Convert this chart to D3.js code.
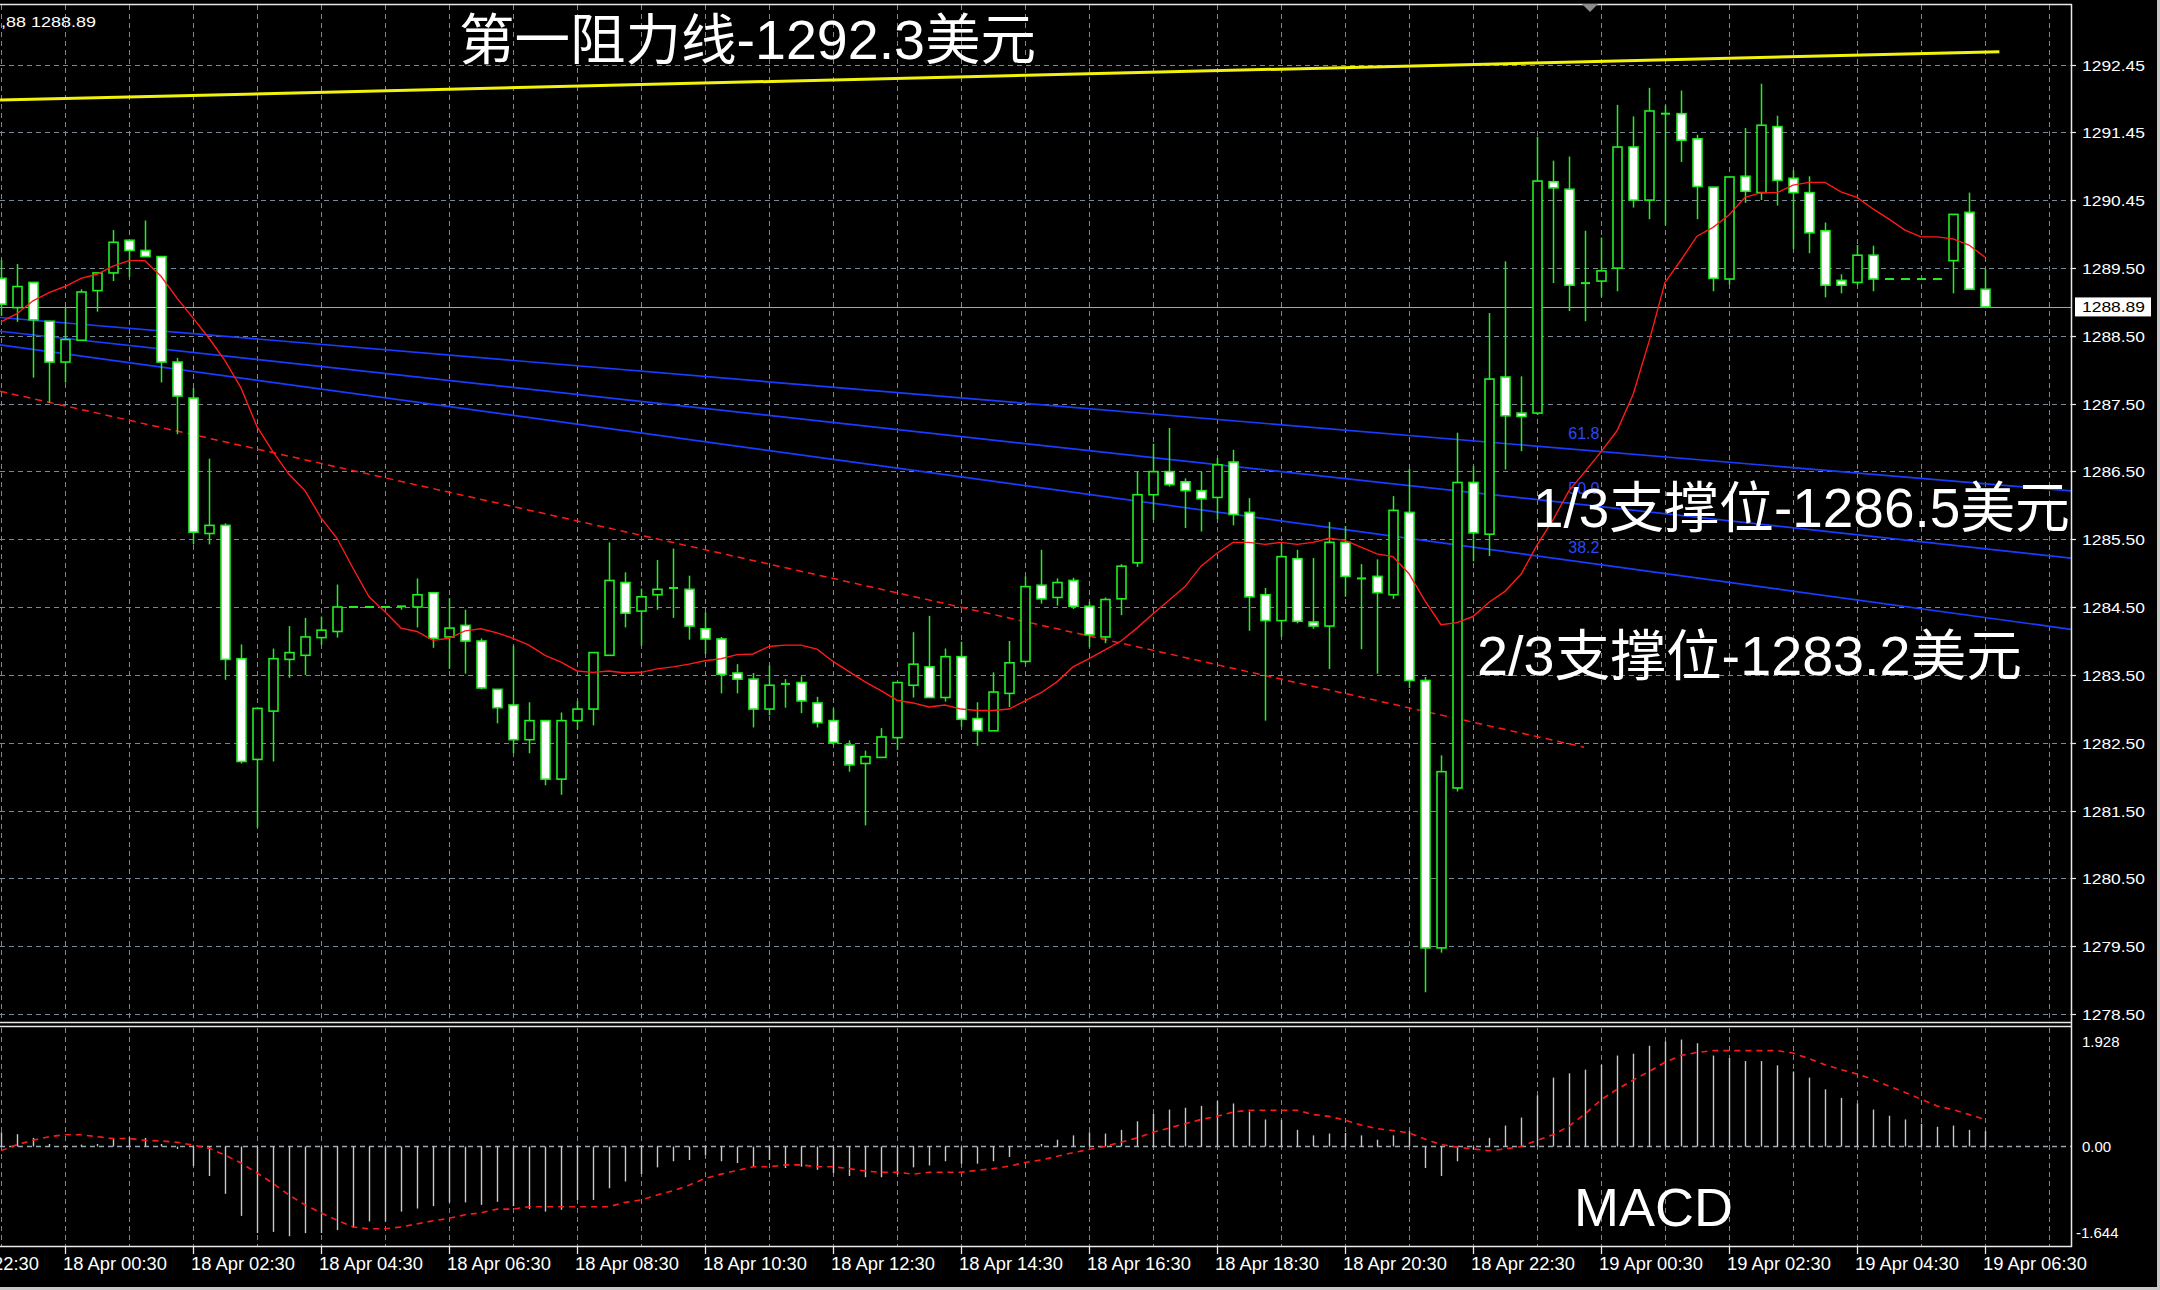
<!DOCTYPE html>
<html><head><meta charset="utf-8">
<script src="https://cdn.jsdelivr.net/npm/d3@7/dist/d3.min.js"></script>
<style>html,body{margin:0;padding:0;background:#000;overflow:hidden}</style>
</head><body><svg id="c" width="2160" height="1290" xmlns="http://www.w3.org/2000/svg"></svg>
<script>
// ---------- DATA ----------
const opens = [1289.31,1288.88,1289.25,1288.68,1288.08,1288.40,1289.13,1289.39,1289.87,1289.72,
1289.63,1288.08,1287.55,1285.56,1285.68,1283.72,1282.24,1282.95,1283.71,1283.77,
1284.03,1284.12,1284.48,1284.48,1284.48,1284.49,1284.48,1284.69,1284.04,1284.21,
1283.98,1283.27,1283.04,1282.53,1282.81,1281.95,1282.81,1282.98,1283.77,1284.84,
1284.42,1284.66,1284.76,1284.74,1284.16,1284.01,1283.51,1283.42,1282.98,1283.35,
1283.37,1283.07,1282.81,1282.45,1282.18,1282.27,1282.56,1283.33,1283.60,1283.15,
1283.75,1282.84,1282.66,1283.21,1283.68,1284.80,1284.62,1284.87,1284.49,1284.04,
1284.60,1285.13,1286.13,1286.47,1286.32,1286.19,1286.09,1286.61,1285.87,1284.66,
1284.28,1285.19,1284.26,1284.20,1285.43,1284.90,1284.93,1284.66,1285.87,1283.40,
1279.47,1281.82,1286.31,1285.55,1287.86,1287.33,1287.33,1290.73,1290.62,1289.24,
1289.27,1289.46,1291.24,1290.46,1291.73,1291.73,1291.36,1290.65,1289.30,1290.81,
1290.57,1291.54,1290.78,1290.57,1290.01,1289.28,1289.25,1289.65,1289.30,1289.30,
1289.30,1289.30,1289.57,1290.28,1289.15];
const highs = [1289.58,1289.52,1289.25,1288.68,1288.88,1289.15,1289.39,1290.02,1289.87,1290.16,
1289.63,1288.14,1287.70,1286.66,1285.71,1283.93,1282.99,1283.87,1284.20,1284.32,
1284.34,1284.81,1284.48,1284.48,1284.48,1284.49,1284.90,1284.69,1284.61,1284.44,
1284.02,1283.27,1283.91,1283.08,1282.81,1282.93,1283.10,1283.81,1285.43,1284.99,
1284.75,1285.17,1285.34,1284.94,1284.40,1284.04,1283.64,1283.51,1283.62,1283.42,
1283.46,1283.16,1282.99,1282.52,1282.37,1282.70,1283.37,1284.11,1284.35,1283.87,
1283.97,1283.08,1283.52,1283.98,1284.93,1285.32,1284.90,1284.91,1284.56,1284.62,
1285.11,1286.47,1286.88,1287.11,1286.37,1286.47,1286.67,1286.79,1286.08,1284.76,
1285.42,1285.32,1285.20,1285.73,1285.67,1285.11,1285.18,1286.11,1286.51,1283.45,
1282.30,1287.04,1286.55,1288.80,1289.56,1287.87,1291.39,1291.04,1291.10,1290.01,
1289.91,1291.86,1291.69,1292.11,1291.85,1292.07,1291.42,1290.65,1290.80,1291.52,
1292.17,1291.70,1290.90,1290.81,1290.13,1289.37,1289.80,1289.79,1289.30,1289.30,
1289.30,1289.30,1290.25,1290.57,1289.45];
const lows = [1288.76,1288.67,1287.85,1287.48,1287.78,1288.40,1288.82,1289.27,1289.33,1289.63,
1287.78,1287.02,1285.40,1285.40,1283.41,1282.18,1281.24,1282.21,1283.44,1283.48,
1283.92,1284.03,1284.48,1284.48,1284.48,1284.44,1284.18,1283.88,1283.57,1283.50,
1283.27,1282.77,1282.33,1282.33,1281.86,1281.72,1282.68,1282.74,1283.77,1284.18,
1283.91,1284.44,1284.32,1284.00,1283.79,1283.21,1283.21,1282.71,1282.89,1283.00,
1282.92,1282.71,1282.45,1282.06,1281.27,1282.27,1282.38,1283.15,1283.15,1283.09,
1282.72,1282.44,1282.66,1283.01,1283.65,1284.53,1284.50,1284.45,1283.89,1283.95,
1284.36,1285.07,1285.76,1286.25,1285.64,1285.59,1285.77,1285.68,1284.13,1282.81,
1284.04,1284.24,1284.16,1283.57,1284.63,1283.86,1283.50,1284.60,1283.29,1278.82,
1279.40,1281.77,1285.15,1285.23,1286.50,1286.77,1287.30,1289.24,1288.83,1288.68,
1289.04,1289.12,1290.35,1290.18,1290.09,1291.02,1290.18,1289.12,1289.22,1290.42,
1290.46,1290.38,1289.74,1289.68,1289.03,1289.09,1289.21,1289.12,1289.30,1289.30,
1289.30,1289.30,1289.09,1289.15,1288.87];
const closes = [1288.93,1289.19,1288.70,1288.08,1288.41,1289.11,1289.39,1289.84,1289.72,1289.63,
1288.08,1287.58,1285.58,1285.68,1283.71,1282.21,1282.99,1283.72,1283.81,1284.04,
1284.14,1284.48,1284.48,1284.48,1284.48,1284.49,1284.66,1284.02,1284.17,1283.98,
1283.29,1283.00,1282.53,1282.81,1281.95,1282.81,1282.98,1283.81,1284.87,1284.39,
1284.63,1284.74,1284.76,1284.20,1284.01,1283.49,1283.42,1282.98,1283.33,1283.35,
1283.10,1282.78,1282.49,1282.16,1282.28,1282.57,1283.37,1283.64,1283.15,1283.75,
1282.83,1282.66,1283.23,1283.66,1284.78,1284.60,1284.84,1284.49,1284.07,1284.59,
1285.08,1286.13,1286.47,1286.28,1286.19,1286.07,1286.57,1285.84,1284.63,1284.28,
1285.22,1284.27,1284.20,1285.43,1284.93,1284.90,1284.69,1285.90,1283.40,1279.47,
1282.06,1286.31,1285.57,1287.83,1287.29,1287.28,1290.74,1290.64,1289.21,1289.24,
1289.42,1291.24,1290.46,1291.77,1291.73,1291.34,1290.66,1289.31,1290.80,1290.59,
1291.56,1290.75,1290.57,1289.98,1289.21,1289.21,1289.65,1289.30,1289.30,1289.30,
1289.30,1289.30,1290.25,1289.15,1288.89];
const maValues = [1288.67,1288.79,1288.98,1289.10,1289.19,1289.31,1289.37,1289.49,1289.57,1289.57,
1289.34,1289.02,1288.73,1288.43,1288.10,1287.70,1287.13,1286.76,1286.43,1286.19,
1285.79,1285.49,1285.05,1284.63,1284.41,1284.17,1284.12,1283.99,1284.02,1284.13,
1284.16,1284.10,1284.02,1283.92,1283.77,1283.67,1283.54,1283.52,1283.54,1283.51,
1283.52,1283.57,1283.60,1283.64,1283.69,1283.72,1283.78,1283.79,1283.90,1283.92,
1283.92,1283.86,1283.68,1283.53,1283.38,1283.25,1283.11,1283.07,1283.01,1283.04,
1282.98,1282.96,1282.96,1282.98,1283.10,1283.22,1283.38,1283.60,1283.72,1283.85,
1283.98,1284.17,1284.38,1284.58,1284.78,1285.08,1285.27,1285.43,1285.43,1285.40,
1285.43,1285.40,1285.43,1285.49,1285.46,1285.36,1285.26,1285.22,1284.97,1284.57,
1284.22,1284.25,1284.34,1284.55,1284.71,1284.96,1285.39,1285.76,1286.19,1286.47,
1286.76,1287.07,1287.60,1288.38,1289.25,1289.58,1289.93,1290.06,1290.24,1290.50,
1290.57,1290.57,1290.68,1290.72,1290.72,1290.58,1290.50,1290.33,1290.18,1290.02,
1289.92,1289.92,1289.89,1289.80,1289.62];
const macdHist = [0.23,0.20,0.14,0.04,0.01,0.03,0.04,0.12,0.15,0.14,
0.04,-0.04,-0.32,-0.48,-0.77,-1.13,-1.41,-1.39,-1.46,-1.41,
-1.41,-1.36,-1.32,-1.22,-1.22,-1.06,-1.01,-0.97,-0.91,-0.91,
-0.95,-0.90,-0.97,-1.02,-1.06,-1.03,-0.87,-0.87,-0.68,-0.57,
-0.45,-0.34,-0.24,-0.22,-0.14,-0.24,-0.27,-0.33,-0.22,-0.35,
-0.33,-0.38,-0.43,-0.48,-0.50,-0.50,-0.46,-0.34,-0.31,-0.24,
-0.28,-0.28,-0.24,-0.17,0.00,0.04,0.11,0.18,0.23,0.21,
0.27,0.41,0.53,0.60,0.63,0.66,0.74,0.70,0.57,0.44,
0.43,0.27,0.18,0.21,0.22,0.18,0.11,0.18,0.25,-0.35,
-0.48,-0.24,-0.05,0.14,0.34,0.47,0.83,1.12,1.19,1.25,
1.33,1.48,1.51,1.64,1.71,1.74,1.68,1.48,1.44,1.39,
1.39,1.32,1.22,1.12,0.93,0.79,0.70,0.60,0.50,0.44,
0.37,0.32,0.34,0.27,0.25];
const macdSignal = [-0.07,0.03,0.10,0.16,0.19,0.19,0.16,0.13,0.13,0.10,
0.09,0.07,0.02,-0.03,-0.14,-0.27,-0.43,-0.60,-0.79,-0.95,
-1.08,-1.20,-1.31,-1.34,-1.34,-1.31,-1.26,-1.21,-1.17,-1.11,
-1.08,-1.02,-1.02,-0.98,-0.98,-0.98,-0.98,-0.98,-0.98,-0.91,
-0.87,-0.79,-0.72,-0.63,-0.52,-0.45,-0.39,-0.33,-0.33,-0.30,
-0.30,-0.33,-0.33,-0.36,-0.40,-0.42,-0.42,-0.45,-0.42,-0.42,
-0.42,-0.39,-0.36,-0.32,-0.26,-0.22,-0.16,-0.10,-0.05,0.00,
0.07,0.14,0.23,0.30,0.37,0.44,0.49,0.56,0.59,0.59,
0.59,0.59,0.52,0.49,0.43,0.35,0.29,0.26,0.22,0.12,
0.03,-0.01,-0.04,-0.07,-0.04,0.00,0.10,0.19,0.33,0.53,
0.76,0.93,1.08,1.22,1.37,1.48,1.53,1.56,1.56,1.56,
1.56,1.56,1.52,1.43,1.33,1.25,1.18,1.09,0.98,0.88,
0.77,0.66,0.60,0.52,0.44];
const timeLabels = ["17 Apr 22:30","18 Apr 00:30","18 Apr 02:30","18 Apr 04:30","18 Apr 06:30","18 Apr 08:30",
"18 Apr 10:30","18 Apr 12:30","18 Apr 14:30","18 Apr 16:30","18 Apr 18:30","18 Apr 20:30",
"18 Apr 22:30","19 Apr 00:30","19 Apr 02:30","19 Apr 04:30","19 Apr 06:30"];
const priceTickLabels = ["1292.45","1291.45","1290.45","1289.50","1288.50","1287.50","1286.50","1285.50",
"1284.50","1283.50","1282.50","1281.50","1280.50","1279.50","1278.50"];
const macdTickLabels = ["1.928","0.00","-1.644"];
const macdTickValues = [1.928, 0, -1.644];
const resistanceLine = [[-0.06, 1291.93], [124.9, 1292.64]];
const fanLine618 = [[-0.06, 1288.735], [129.4, 1286.186]];
const fanLine500 = [[-0.06, 1288.533], [129.4, 1285.197]];
const fanLine382 = [[-0.06, 1288.332], [129.4, 1284.151]];
const fanLabels = ["61.8", "50.0", "38.2"];
const trendLine = [[-0.06, 1287.65], [98.94, 1282.42]];
const annotations = ["第一阻力线-1292.3美元", "1/3支撑位-1286.5美元", "2/3支撑位-1283.2美元"];
const indicatorName = "MACD";
const infoText = ",88 1288.89";

// ---------- DRAW ----------
const FONT = '"Liberation Sans", Arial, "Noto Sans CJK SC", sans-serif';
const svg = d3.select('#c');
svg.append('rect').attr('width',2160).attr('height',1290).attr('fill','#000');

const x = d3.scaleLinear().domain([0,124]).range([1,1985]);
const y = d3.scaleLinear().domain([1278.381,1293.342]).range([1022,4]);
const yM = d3.scaleLinear().domain([-1.644,1.928]).range([1247.5,1028]);
const cx = k => Math.round(x(k)) + 0.5;

const defs = svg.append('defs');
defs.append('clipPath').attr('id','clipMain').append('rect').attr('x',0).attr('y',5).attr('width',2071).attr('height',1017);
defs.append('clipPath').attr('id','clipMacd').append('rect').attr('x',0).attr('y',1027).attr('width',2071).attr('height',219);

const GRID = '#7b8997';
const gMain = svg.append('g').attr('clip-path','url(#clipMain)');
const gMacd = svg.append('g').attr('clip-path','url(#clipMacd)');

// vertical grid
const vgrid = d3.range(0, 130, 4);
gMain.selectAll('line.vg').data(vgrid).enter().append('line')
  .attr('x1', d=>cx(d)).attr('x2', d=>cx(d)).attr('y1',5).attr('y2',1022)
  .attr('stroke',GRID).attr('stroke-width',1).attr('stroke-dasharray','5,4');
gMacd.selectAll('line.vg').data(vgrid).enter().append('line')
  .attr('x1', d=>cx(d)).attr('x2', d=>cx(d)).attr('y1',1028).attr('y2',1246)
  .attr('stroke',GRID).attr('stroke-width',1).attr('stroke-dasharray','5,4');

// horizontal grid (evenly spaced price ticks)
const pTop = +priceTickLabels[0], pBot = +priceTickLabels[priceTickLabels.length-1];
const pStep = (pTop - pBot) / (priceTickLabels.length - 1);
const priceTickValues = priceTickLabels.map((s,i) => pTop - i*pStep);
gMain.selectAll('line.hg').data(priceTickValues).enter().append('line')
  .attr('x1',0).attr('x2',2071).attr('y1',d=>Math.round(y(d))+0.5).attr('y2',d=>Math.round(y(d))+0.5)
  .attr('stroke',GRID).attr('stroke-width',1).attr('stroke-dasharray','5,4');
// macd zero line
gMacd.append('line').attr('x1',0).attr('x2',2071).attr('y1',Math.round(yM(0))+0.5).attr('y2',Math.round(yM(0))+0.5)
  .attr('stroke','#9aa6b2').attr('stroke-width',1.5).attr('stroke-dasharray','5,4');

// current price line
gMain.append('line').attr('x1',0).attr('x2',2071)
  .attr('y1',Math.round(y(closes[closes.length-1]))+0.5).attr('y2',Math.round(y(closes[closes.length-1]))+0.5)
  .attr('stroke','#9ca7b3').attr('stroke-width',1.2);

// trend lines
const lineP = d3.line().x(d=>x(d[0])).y(d=>y(d[1]));
gMain.append('path').attr('d',lineP(trendLine)).attr('fill','none').attr('stroke','#ff1a1a')
  .attr('stroke-width',1.5).attr('stroke-dasharray','7,5');
[fanLine618, fanLine500, fanLine382].forEach(l => {
  gMain.append('path').attr('d',lineP(l)).attr('fill','none').attr('stroke','#1a3cff').attr('stroke-width',1.7);
});
gMain.append('path').attr('d',lineP(resistanceLine)).attr('fill','none').attr('stroke','#f2f20a').attr('stroke-width',3);

// fan labels
const fanAt = (l, k) => l[0][1] + (l[1][1]-l[0][1]) * (k - l[0][0]) / (l[1][0]-l[0][0]);
[fanLine618, fanLine500, fanLine382].forEach((l,i) => {
  gMain.append('text').attr('x', x(99.9)).attr('y', y(fanAt(l, 99.9)) - 12)
    .attr('text-anchor','end').attr('font-family',FONT).attr('font-size',16).attr('fill','#2848ff')
    .text(fanLabels[i]);
});

// candles
const bars = d3.range(opens.length).map(i => ({k:i,o:opens[i],h:highs[i],l:lows[i],c:closes[i]}));
const LIME = '#22ee22';
const gC = gMain.append('g');
gC.selectAll('line.w').data(bars).enter().append('line')
  .attr('x1',d=>cx(d.k)).attr('x2',d=>cx(d.k)).attr('y1',d=>y(d.h)).attr('y2',d=>y(d.l))
  .attr('stroke',LIME).attr('stroke-width',1.5);
gC.selectAll('rect.b').data(bars.filter(d=>Math.abs(d.o-d.c)>0.001)).enter().append('rect')
  .attr('x',d=>cx(d.k)-4.5).attr('width',9)
  .attr('y',d=>y(Math.max(d.o,d.c))).attr('height',d=>Math.max(1,y(Math.min(d.o,d.c))-y(Math.max(d.o,d.c))))
  .attr('fill',d=>d.c<d.o?'#ffffff':'#000000').attr('stroke',LIME).attr('stroke-width',1.6);
gC.selectAll('line.d').data(bars.filter(d=>Math.abs(d.o-d.c)<=0.001)).enter().append('line')
  .attr('x1',d=>cx(d.k)-4.5).attr('x2',d=>cx(d.k)+4.5).attr('y1',d=>y(d.o)).attr('y2',d=>y(d.o))
  .attr('stroke',LIME).attr('stroke-width',2);

// moving average
gMain.append('path').attr('d', d3.line().x((d,i)=>x(i)).y(d=>y(d))(maValues))
  .attr('fill','none').attr('stroke','#ff1a1a').attr('stroke-width',1.4);

// MACD histogram and signal
gMacd.selectAll('line.h').data(macdHist).enter().append('line')
  .attr('x1',(d,i)=>cx(i)).attr('x2',(d,i)=>cx(i)).attr('y1',yM(0)).attr('y2',d=>yM(d))
  .attr('stroke','#c8c8c8').attr('stroke-width',1.4);
gMacd.append('path').attr('d', d3.line().x((d,i)=>x(i)).y(d=>yM(d))(macdSignal))
  .attr('fill','none').attr('stroke','#ff1a1a').attr('stroke-width',1.6).attr('stroke-dasharray','6,5');

// frames
const W = '#e8e8e8';
svg.append('line').attr('x1',0).attr('x2',2072).attr('y1',4.5).attr('y2',4.5).attr('stroke',W).attr('stroke-width',1.5);
svg.append('line').attr('x1',0).attr('x2',2072).attr('y1',1022.5).attr('y2',1022.5).attr('stroke',W).attr('stroke-width',1.5);
svg.append('line').attr('x1',0).attr('x2',2072).attr('y1',1026.5).attr('y2',1026.5).attr('stroke',W).attr('stroke-width',1.5);
svg.append('line').attr('x1',0).attr('x2',2072).attr('y1',1246.5).attr('y2',1246.5).attr('stroke',W).attr('stroke-width',1.5);
svg.append('line').attr('x1',2071.5).attr('x2',2071.5).attr('y1',4).attr('y2',1247).attr('stroke',W).attr('stroke-width',1.5);
svg.append('rect').attr('x',0).attr('y',1287).attr('width',2160).attr('height',3).attr('fill','#c8c8c8');
svg.append('rect').attr('x',2157).attr('y',0).attr('width',3).attr('height',1290).attr('fill','#c8c8c8');

// price axis labels
const gA = svg.append('g').attr('font-family',FONT).attr('fill','#ffffff');
priceTickValues.forEach((v,i) => {
  const yy = Math.round(y(v))+0.5;
  svg.append('line').attr('x1',2071).attr('x2',2076).attr('y1',yy).attr('y2',yy).attr('stroke',W).attr('stroke-width',1.2);
  gA.append('text').attr('x',2082).attr('y',yy+5.5).attr('font-size',15)
    .attr('textLength',63).attr('lengthAdjust','spacingAndGlyphs').text(priceTickLabels[i]);
});
// current price box
const cpy = y(closes[closes.length-1]);
svg.append('rect').attr('x',2075).attr('y',cpy-9.5).attr('width',76).attr('height',19).attr('fill','#ffffff');
svg.append('text').attr('x',2082).attr('y',cpy+5.5).attr('font-family',FONT).attr('font-size',15)
  .attr('fill','#000').attr('textLength',63).attr('lengthAdjust','spacingAndGlyphs').text(closes[closes.length-1].toFixed(2));

// MACD axis labels
macdTickValues.forEach((v,i) => {
  const off = i===0 ? 19 : (i===2 ? -10 : 5.5);
  gA.append('text').attr('x', i===2?2076:2082).attr('y', yM(v)+off).attr('font-size',15)
    .text(macdTickLabels[i]);
});

// time axis
timeLabels.forEach((t,i) => {
  const k = -4 + 8*i;
  const xx = cx(k);
  svg.append('line').attr('x1',xx).attr('x2',xx).attr('y1',1247).attr('y2',1254).attr('stroke',W).attr('stroke-width',1.3);
  svg.append('text').attr('x',xx-2.5).attr('y',1270).attr('font-family',FONT).attr('font-size',18)
    .attr('fill','#fff').attr('textLength',104).attr('lengthAdjust','spacingAndGlyphs').text(t);
});

// info text & shift marker
svg.append('text').attr('x',1).attr('y',27).attr('font-family',FONT).attr('font-size',15).attr('fill','#fff')
  .attr('textLength',95).attr('lengthAdjust','spacingAndGlyphs').text(infoText);
svg.append('path').attr('d','M1582,4 L1598,4 L1590,12 Z').attr('fill','#8c8c8c');

// annotations
const annPos = [[459,59,577],[1533,527,537],[1477,675,545]];
annotations.forEach((t,i) => {
  svg.append('text').attr('x',annPos[i][0]).attr('y',annPos[i][1]).attr('font-family',FONT)
    .attr('font-size',55).attr('fill','#ffffff').attr('textLength',annPos[i][2])
    .attr('lengthAdjust','spacingAndGlyphs').text(t);
});
svg.append('text').attr('x',1574).attr('y',1226).attr('font-family',FONT).attr('font-size',54)
  .attr('fill','#ffffff').text(indicatorName);
</script>
</body></html>
